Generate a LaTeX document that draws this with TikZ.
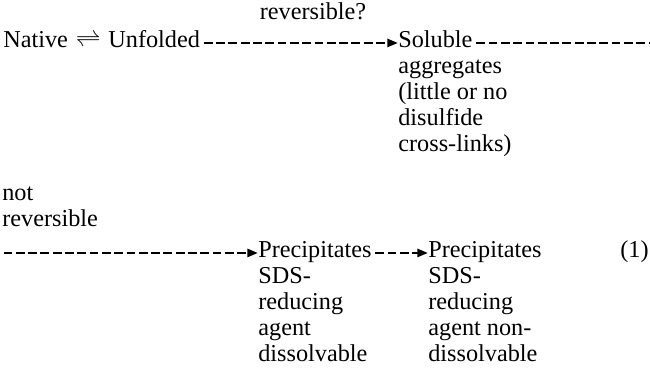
\documentclass[tikz,border=0pt]{standalone}
\usepackage{fontspec}
\setmainfont{Liberation Serif}
\usetikzlibrary{arrows.meta}
\usetikzlibrary{positioning}

\begin{document}
\begin{tikzpicture}[
    txt/.style={inner sep=0pt, anchor=base west, font=\fontsize{13.8pt}{14.74pt}\selectfont},
    head/.style={txt, text height=1ex, text depth=0pt},
    note/.style={txt, align=left},
    rest/.style={line width=1.4pt, dash pattern=on 5pt off 2pt, shorten <=2pt},
    flow/.style={rest, -{Triangle[length=6pt, width=4.5pt]}}
]
    \useasboundingbox (0,0) rectangle (13,-7.62);
    \coordinate (lft) at (0,0);
    \coordinate (rgt) at (13,0);

    % Native and unfolded states
    \node[head] (unf) at (0.06,-0.94) {Native\hspace{1pt} $\rightleftharpoons$\hspace{1pt} Unfolded};
    % Soluble aggregates (notes sit on the baseline of their last line)
    \node[head] (sol) at (7.96,-0.94) {Soluble};
    \node[note] (solnote) at (7.96,-3.02) {aggregates\\(little or no\\disulfide\\cross-links)};

    % Label of the lower path
    \node[note] (notrev) at (0.04,-4.52) {not\\reversible};

    % Precipitates, dissolvable
    \node[head] (pre) at (5.16,-5.14) {Precipitates};
    \node[note] (prenote) at (5.16,-7.22) {SDS-\\reducing\\agent\\dissolvable};
    % Precipitates, non-dissolvable
    \node[head] (prenon) at (8.56,-5.14) {Precipitates};
    \node[note] (prenonnote) at (8.56,-7.22) {SDS-\\reducing\\agent non-\\dissolvable};
    % Equation number
    \node[head] (eqno) at (12.4,-5.14) {(1)};

    % Dashed arrows
    \draw[flow] (unf.east) -- (sol.west) node[txt, pos=0.57, above=12.5pt] {reversible?};
    \draw[rest] (sol.east) -- (sol.east -| rgt);
    \draw[flow] (pre.west -| lft) -- (pre.west);
    \draw[flow] (pre.east) -- (prenon.west);
\end{tikzpicture}
\end{document}
